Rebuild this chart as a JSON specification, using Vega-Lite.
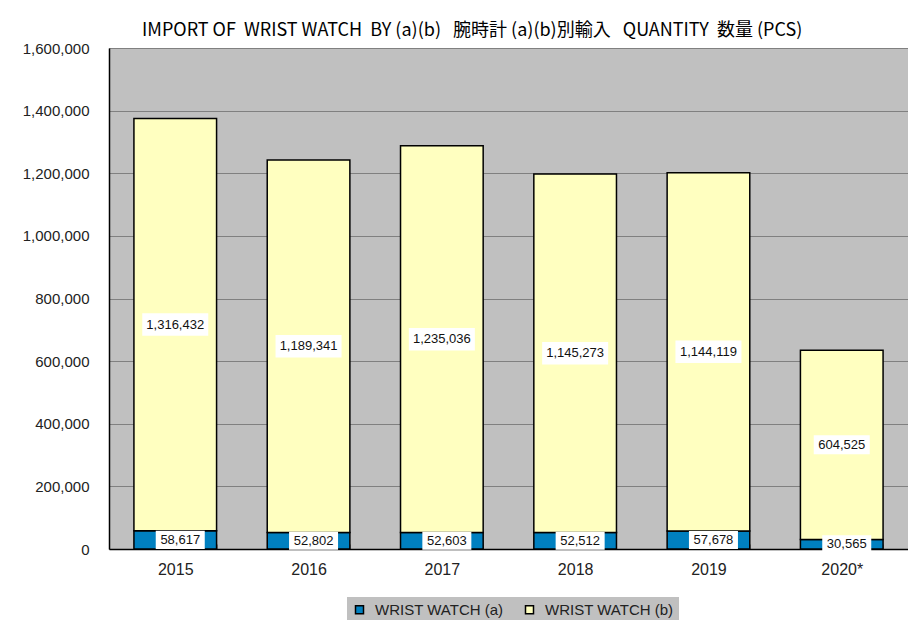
{
  "$schema": "https://vega.github.io/schema/vega-lite/v6.json",
  "autosize": {"type": "none"},
  "padding": {"left": 109, "top": 48, "right": 0, "bottom": 71},
  "width": 799,
  "height": 501,
  "background": "white",
  "title": {
    "text": "IMPORT OF\u00a0\u00a0WRIST WATCH\u00a0\u00a0BY (a)(b)\u00a0\u00a0\u00a0腕時計 (a)(b)別輸入\u00a0\u00a0\u00a0QUANTITY\u00a0\u00a0数量 (PCS)",
    "anchor": "start",
    "frame": "group",
    "dx": 33,
    "offset": 1,
    "font": "Noto Sans CJK JP",
    "fontSize": 18,
    "fontWeight": "normal",
    "color": "#000000"
  },
  "config": {
    "view": {"fill": "#C0C0C0", "stroke": null},
    "font": "Liberation Sans"
  },
  "data": {
    "values": [
      {"year": "2015", "series": "WRIST WATCH (a)", "value": 58617},
      {"year": "2015", "series": "WRIST WATCH (b)", "value": 1316432},
      {"year": "2016", "series": "WRIST WATCH (a)", "value": 52802},
      {"year": "2016", "series": "WRIST WATCH (b)", "value": 1189341},
      {"year": "2017", "series": "WRIST WATCH (a)", "value": 52603},
      {"year": "2017", "series": "WRIST WATCH (b)", "value": 1235036},
      {"year": "2018", "series": "WRIST WATCH (a)", "value": 52512},
      {"year": "2018", "series": "WRIST WATCH (b)", "value": 1145273},
      {"year": "2019", "series": "WRIST WATCH (a)", "value": 57678},
      {"year": "2019", "series": "WRIST WATCH (b)", "value": 1144119},
      {"year": "2020*", "series": "WRIST WATCH (a)", "value": 30565},
      {"year": "2020*", "series": "WRIST WATCH (b)", "value": 604525}
    ]
  },
  "transform": [
    {"stack": "value", "groupby": ["year"], "sort": [{"field": "series", "order": "ascending"}], "as": ["y0", "y1"]},
    {"calculate": "(datum.y0 + datum.y1) / 2", "as": "mid"}
  ],
  "encoding": {
    "x": {
      "field": "year",
      "type": "ordinal",
      "sort": null,
      "title": null,
      "scale": {"paddingInner": 0.38, "paddingOuter": 0.187},
      "axis": {
        "labelAngle": 0,
        "labelFontSize": 16,
        "labelColor": "#222222",
        "labelPadding": 17,
        "domainColor": "#000000",
        "domainWidth": 1.5,
        "tickBand": "extent",
        "tickSize": -5,
        "tickColor": "#808080"
      }
    },
    "y": {
      "field": "y0",
      "type": "quantitative",
      "title": null,
      "scale": {"domain": [0, 1600000], "nice": false},
      "axis": {
        "values": [0, 200000, 400000, 600000, 800000, 1000000, 1200000, 1400000, 1600000],
        "format": ",.0f",
        "labelFontSize": 15,
        "labelColor": "#222222",
        "labelPadding": 20,
        "ticks": false,
        "domainColor": "#000000",
        "domainWidth": 1.5,
        "gridColor": "#808080",
        "gridOpacity": 1,
        "gridWidth": 1
      }
    }
  },
  "layer": [
    {
      "mark": {"type": "bar", "stroke": "#000000", "strokeWidth": 1.5},
      "encoding": {
        "y2": {"field": "y1"},
        "fill": {
          "field": "series",
          "type": "nominal",
          "scale": {"domain": ["WRIST WATCH (a)", "WRIST WATCH (b)"], "range": ["#0080C0", "#FFFFC0"]},
          "legend": {
            "title": null,
            "orient": "none",
            "legendX": 238,
            "legendY": 549,
            "direction": "horizontal",
            "fillColor": "#C0C0C0",
            "padding": 5,
            "symbolType": "square",
            "symbolSize": 64,
            "symbolStrokeColor": "#000000",
            "symbolStrokeWidth": 1.5,
            "labelFontSize": 15,
            "labelOffset": 8,
            "labelColor": "#222222",
            "columnPadding": 18,
            "labelLimit": 200
          }
        }
      }
    },
    {
      "transform": [{"filter": "datum.series == 'WRIST WATCH (b)'"}],
      "mark": {"type": "point", "filled": true, "fill": "#FFFFFF", "opacity": 1, "shape": "M-1,-0.34L1,-0.34L1,0.34L-1,0.34Z"},
      "encoding": {
        "y": {"field": "mid", "type": "quantitative"},
        "size": {"condition": {"test": "datum.value < 1000000", "value": 3136}, "value": 4356}
      }
    },
    {
      "transform": [{"filter": "datum.series == 'WRIST WATCH (a)'"}],
      "mark": {"type": "point", "filled": true, "fill": "#FFFFFF", "opacity": 1, "xOffset": 5, "shape": "M-1,-0.37L1,-0.37L1,0.37L-1,0.37Z"},
      "encoding": {
        "y": {"field": "mid", "type": "quantitative"},
        "size": {"value": 2401}
      }
    },
    {
      "transform": [{"filter": "datum.series == 'WRIST WATCH (b)'"}],
      "mark": {"type": "text", "fontSize": 13, "color": "#111111", "baseline": "middle"},
      "encoding": {
        "y": {"field": "mid", "type": "quantitative"},
        "text": {"field": "value", "type": "quantitative", "format": ","}
      }
    },
    {
      "transform": [{"filter": "datum.series == 'WRIST WATCH (a)'"}],
      "mark": {"type": "text", "fontSize": 13, "color": "#111111", "baseline": "middle", "dx": 5},
      "encoding": {
        "y": {"field": "mid", "type": "quantitative"},
        "text": {"field": "value", "type": "quantitative", "format": ","}
      }
    }
  ]
}
